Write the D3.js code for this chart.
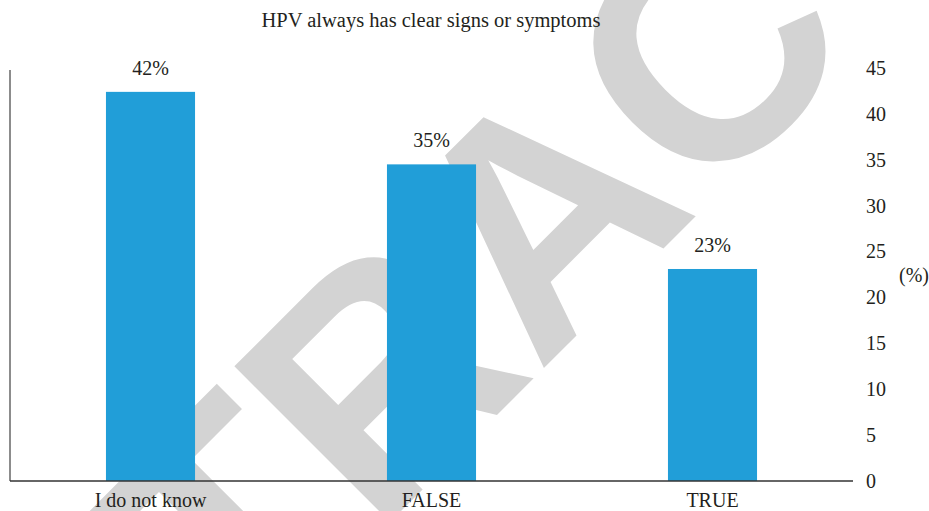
<!DOCTYPE html>
<html>
<head>
<meta charset="utf-8">
<script src="https://cdn.jsdelivr.net/npm/d3@7"></script>
<style>
  body { margin: 0; background: #fff; }
  svg text { font-family: "Liberation Serif", "Times New Roman", serif; fill: #231f20; }
</style>
</head>
<body>
<svg id="chart" width="929" height="511"></svg>
<script>
var categories = ["I do not know", "FALSE", "TRUE"];
var values = [42.4, 34.5, 23.1];
var valueLabels = ["42%", "35%", "23%"];
var yTicks = [0, 5, 10, 15, 20, 25, 30, 35, 40, 45];
var title = "HPV always has clear signs or symptoms";
var watermark = "RETRACTED";

var svg = d3.select('#chart');

// grey stamp behind everything
svg.append('text')
    .attr('transform', 'translate(620,292) rotate(-45)')
    .attr('text-anchor', 'middle')
    .style('font-family', '"Liberation Sans", Arial, sans-serif')
    .style('font-weight', 'bold')
    .style('font-size', '320px')
    .style('fill', '#d3d3d3')
    .text(watermark);

var x = d3.scaleBand().domain(categories).range([10, 853])
    .paddingInner(0.683).paddingOuter(0.3415);
var y = d3.scaleLinear().domain([0, 45]).range([481, 68]);

svg.append('text')
    .attr('x', 431).attr('y', 27)
    .attr('text-anchor', 'middle')
    .style('font-size', '20.5px')
    .text(title);

svg.selectAll('rect.bar').data(values).enter().append('rect')
    .attr('class', 'bar')
    .attr('x', function(d, i){ return x(categories[i]); })
    .attr('width', x.bandwidth())
    .attr('y', function(d){ return y(d); })
    .attr('height', function(d){ return y(0) - y(d); })
    .attr('fill', '#219ed8');

svg.selectAll('text.val').data(values).enter().append('text')
    .attr('class', 'val')
    .attr('x', function(d, i){ return x(categories[i]) + x.bandwidth()/2; })
    .attr('y', function(d){ return y(d) - 17; })
    .attr('text-anchor', 'middle')
    .style('font-size', '20px')
    .text(function(d, i){ return valueLabels[i]; });

// left axis line and baseline
svg.append('line')
    .attr('x1', 10).attr('x2', 10).attr('y1', 70).attr('y2', y(0))
    .attr('stroke', '#666').attr('stroke-width', 1.5);
svg.append('line')
    .attr('x1', 10).attr('x2', 853).attr('y1', y(0)).attr('y2', y(0))
    .attr('stroke', '#333').attr('stroke-width', 1.5);

// right tick labels, no axis line
var yAxis = svg.append('g')
    .attr('transform', 'translate(853,0)')
    .call(d3.axisRight(y).tickValues(yTicks).tickSize(0).tickPadding(13));
yAxis.select('.domain').remove();
yAxis.selectAll('text')
    .style('font-family', '"Liberation Serif", serif')
    .style('font-size', '20px')
    .attr('fill', '#231f20');

var xAxis = svg.append('g')
    .attr('transform', 'translate(0,' + y(0) + ')')
    .call(d3.axisBottom(x).tickSize(0).tickPadding(12));
xAxis.select('.domain').remove();
xAxis.selectAll('text')
    .style('font-family', '"Liberation Serif", serif')
    .style('font-size', '20px')
    .attr('fill', '#231f20');

svg.append('text')
    .attr('x', 899).attr('y', 275)
    .attr('dy', '0.35em')
    .style('font-size', '20px')
    .text('(%)');
</script>
</body>
</html>
